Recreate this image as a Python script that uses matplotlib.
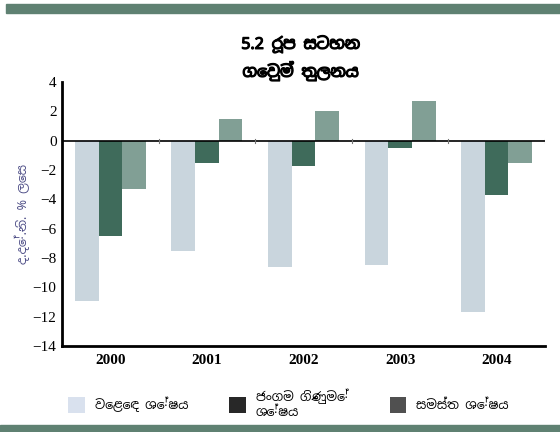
import numpy as np
import matplotlib.pyplot as plt
import matplotlib.patheffects as pe
from matplotlib.patches import Rectangle, Patch

plt.rcParams['font.family'] = ['Liberation Serif', 'DejaVu Serif']
plt.rcParams['hatch.color'] = '#f0f0f0'
SIN = ['Noto Sans Sinhala', 'Liberation Serif', 'DejaVu Sans']

# data (% of GDP)
years = ['2000', '2001', '2002', '2003', '2004']
trade_bal = [-10.9, -7.5, -8.6, -8.5, -11.7]
current_bal = [-6.5, -1.5, -1.7, -0.5, -3.7]
overall_bal = [-3.3, 1.5, 2.0, 2.7, -1.5]
labels = ['වෙළෙඳ ශේෂය', 'ජංගම ගිණුමේ\nශේෂය', 'සමස්ත ශේෂය']
title = '5.2 රූප සටහන\nගෙවුම් තුලනය'
ylabel = 'ද.දේ.නි. % ලෙස'

c_light = '#c9d5dd'
c_dark = '#3f6b5b'
c_mid = '#819f95'

fig = plt.figure(figsize=(5.6, 4.32), dpi=100)
ax = fig.add_axes([0.111, 0.199, 0.862, 0.611])

x = np.arange(len(years))
w = 0.245
ax.bar(x - w, trade_bal, w, color=c_light)
ax.bar(x, current_bal, w, color=c_dark)
ax.bar(x + w, overall_bal, w, color=c_mid)

ax.set_xlim(-0.5, 4.5)
ax.set_ylim(-14, 4)
ax.set_yticks(range(-14, 5, 2))
ax.set_xticks(x)
ax.set_xticklabels(years, fontsize=11, fontweight='bold')
ax.tick_params(axis='x', length=0, pad=6)
ax.tick_params(axis='y', length=0, labelsize=11, pad=4)
ax.axhline(0, color='black', lw=1.2)
# small ticks on the zero line between the years
for xb in np.arange(0.5, 4.6, 1):
    ax.plot([xb, xb], [-0.15, 0.15], color='#777777', lw=0.8)

for s in ['top', 'right']:
    ax.spines[s].set_visible(False)
ax.spines['left'].set_linewidth(2)
ax.spines['bottom'].set_linewidth(2)

ax.set_ylabel(ylabel, fontsize=9, color='#4b4b85', family=SIN, labelpad=2)

fig.text(0.537, 0.865, title, ha='center', va='center', fontsize=11.5,
         fontweight='bold', linespacing=1.5, family=SIN,
         path_effects=[pe.withStroke(linewidth=0.9, foreground='black')])

# legend swatches as printed in the scan
handles = [Patch(facecolor='#d9e1ee', edgecolor='none'),
           Patch(facecolor='#282828', edgecolor='none'),
           Patch(facecolor='#505050', edgecolor='none', hatch='....')]
fig.legend(handles=handles, labels=labels, loc='center', ncol=3,
           bbox_to_anchor=(0.515, 0.065), frameon=False,
           handlelength=1.3, handleheight=1.6, columnspacing=3.3,
           prop={'family': SIN, 'size': 9})

# border bands top and bottom
fig.patches.append(Rectangle((0.01, 0.97), 0.99, 0.021, transform=fig.transFigure,
                             color='#5f8172', zorder=0))
fig.patches.append(Rectangle((0.0, 0.0), 1.0, 0.017, transform=fig.transFigure,
                             color='#5f8172', zorder=0))

fig.savefig('out.png', dpi=100)
